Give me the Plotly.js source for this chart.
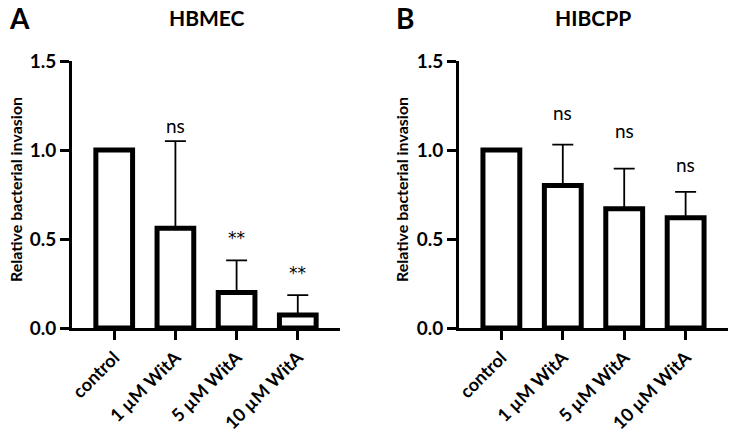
<!DOCTYPE html>
<html>
<head>
<meta charset="utf-8">
<script src="https://cdn.plot.ly/plotly-3.0.1.min.js"></script>
<style>html,body{margin:0;padding:0;background:#fff;}#chart{width:736px;height:435px;}</style>
</head>
<body>
<div id="chart"></div>
<script>
// ---- data ----
const categories = ["control", "1 µM WitA", "5 µM WitA", "10 µM WitA"];
const hbmecValues = [1.0, 0.56, 0.20, 0.073];
const hbmecErrors = [0, 0.49, 0.18, 0.112];
const hbmecSig = ["", "ns", "**", "**"];
const hibcppValues = [1.0, 0.80, 0.67, 0.62];
const hibcppErrors = [0, 0.23, 0.225, 0.145];
const hibcppSig = ["", "ns", "ns", "ns"];
const yTickVals = [0, 0.5, 1.0, 1.5];
const panelTitles = ["HBMEC", "HIBCPP"];
const panelLetters = ["A", "B"];
const yTitle = "Relative bacterial invasion";

// ---- layout helpers ----
const W = 736, H = 435;
const FONT = "Lato, 'Open Sans', sans-serif";
const STAR_FONT = "'DejaVu Sans', sans-serif";
const px = v => v / W;
const py = v => 1 - v / H;

function barTrace(vals, errs, xa, ya) {
  return {
    type: "bar", x: categories, y: vals, xaxis: xa, yaxis: ya,
    width: 0.6,
    marker: {color: "#ffffff", line: {color: "#000000", width: 5}},
    error_y: {type: "data", symmetric: false, array: errs,
              arrayminus: errs.map(() => 0), color: "#000000", thickness: 1.8, width: 10.5},
    showlegend: false, hoverinfo: "skip"
  };
}

const xBase = {
  range: [-0.69, 3.69], showline: true, linewidth: 3, linecolor: "#000",
  ticks: "outside", ticklen: 9, tickwidth: 3, tickcolor: "#000",
  tickangle: -45, tickfont: {family: FONT, size: 18, color: "#000", weight: "bold"},
  showgrid: false, zeroline: false, fixedrange: true, automargin: false
};
const yBase = {
  range: [0, 1.5], tickvals: yTickVals, tickformat: ".1f",
  showline: true, linewidth: 3, linecolor: "#000",
  ticks: "outside", ticklen: 9, tickwidth: 3, tickcolor: "#000",
  tickfont: {family: FONT, size: 19, color: "#000", weight: "bold"},
  showgrid: false, zeroline: false, fixedrange: true, automargin: false,
  domain: [py(328), py(61)]
};

const sigShiftA = [0, 16, 22, 22];
const sigShiftB = [0, 32, 38, 27];

const annotations = [];
function addSig(vals, errs, sig, shifts, xa, ya) {
  sig.forEach((s, i) => {
    if (!s) return;
    const star = s.indexOf("*") >= 0;
    annotations.push({x: categories[i], y: vals[i] + errs[i], xref: xa, yref: ya,
      text: s, showarrow: false, yanchor: "middle", yshift: shifts[i],
      font: {family: star ? STAR_FONT : FONT, size: star ? 17 : 19, color: "#000"}});
  });
}
addSig(hbmecValues, hbmecErrors, hbmecSig, sigShiftA, "x", "y");
addSig(hibcppValues, hibcppErrors, hibcppSig, sigShiftB, "x2", "y2");

// titles, letters, y titles
[[207, 18], [593, 18]].forEach((p, i) => annotations.push({
  x: px(p[0]), y: py(p[1]), xref: "paper", yref: "paper", text: panelTitles[i],
  showarrow: false, xanchor: "center", yanchor: "middle",
  font: {family: FONT, size: 21, color: "#000", weight: "bold"}}));
[[19, 18], [405, 18]].forEach((p, i) => annotations.push({
  x: px(p[0]), y: py(p[1]), xref: "paper", yref: "paper", text: panelLetters[i],
  showarrow: false, xanchor: "center", yanchor: "middle",
  font: {family: FONT, size: 28, color: "#000", weight: "bold"}}));
[[15, 190], [401, 190]].forEach((p) => annotations.push({
  x: px(p[0]), y: py(p[1]), xref: "paper", yref: "paper", text: yTitle,
  showarrow: false, xanchor: "center", yanchor: "middle", textangle: -90,
  font: {family: FONT, size: 16, color: "#000", weight: "bold"}}));

const layout = {
  width: W, height: H, margin: {l: 0, r: 0, t: 0, b: 0},
  paper_bgcolor: "#fff", plot_bgcolor: "#fff",
  showlegend: false,
  xaxis: Object.assign({}, xBase, {domain: [px(72), px(340)], anchor: "y"}),
  yaxis: Object.assign({}, yBase, {anchor: "x"}),
  xaxis2: Object.assign({}, xBase, {domain: [px(459), px(728)], anchor: "y2"}),
  yaxis2: Object.assign({}, yBase, {anchor: "x2"}),
  annotations: annotations
};

Plotly.newPlot("chart", [
  barTrace(hbmecValues, hbmecErrors, "x", "y"),
  barTrace(hibcppValues, hibcppErrors, "x2", "y2")
], layout, {staticPlot: true, displayModeBar: false});
</script>
</body>
</html>
